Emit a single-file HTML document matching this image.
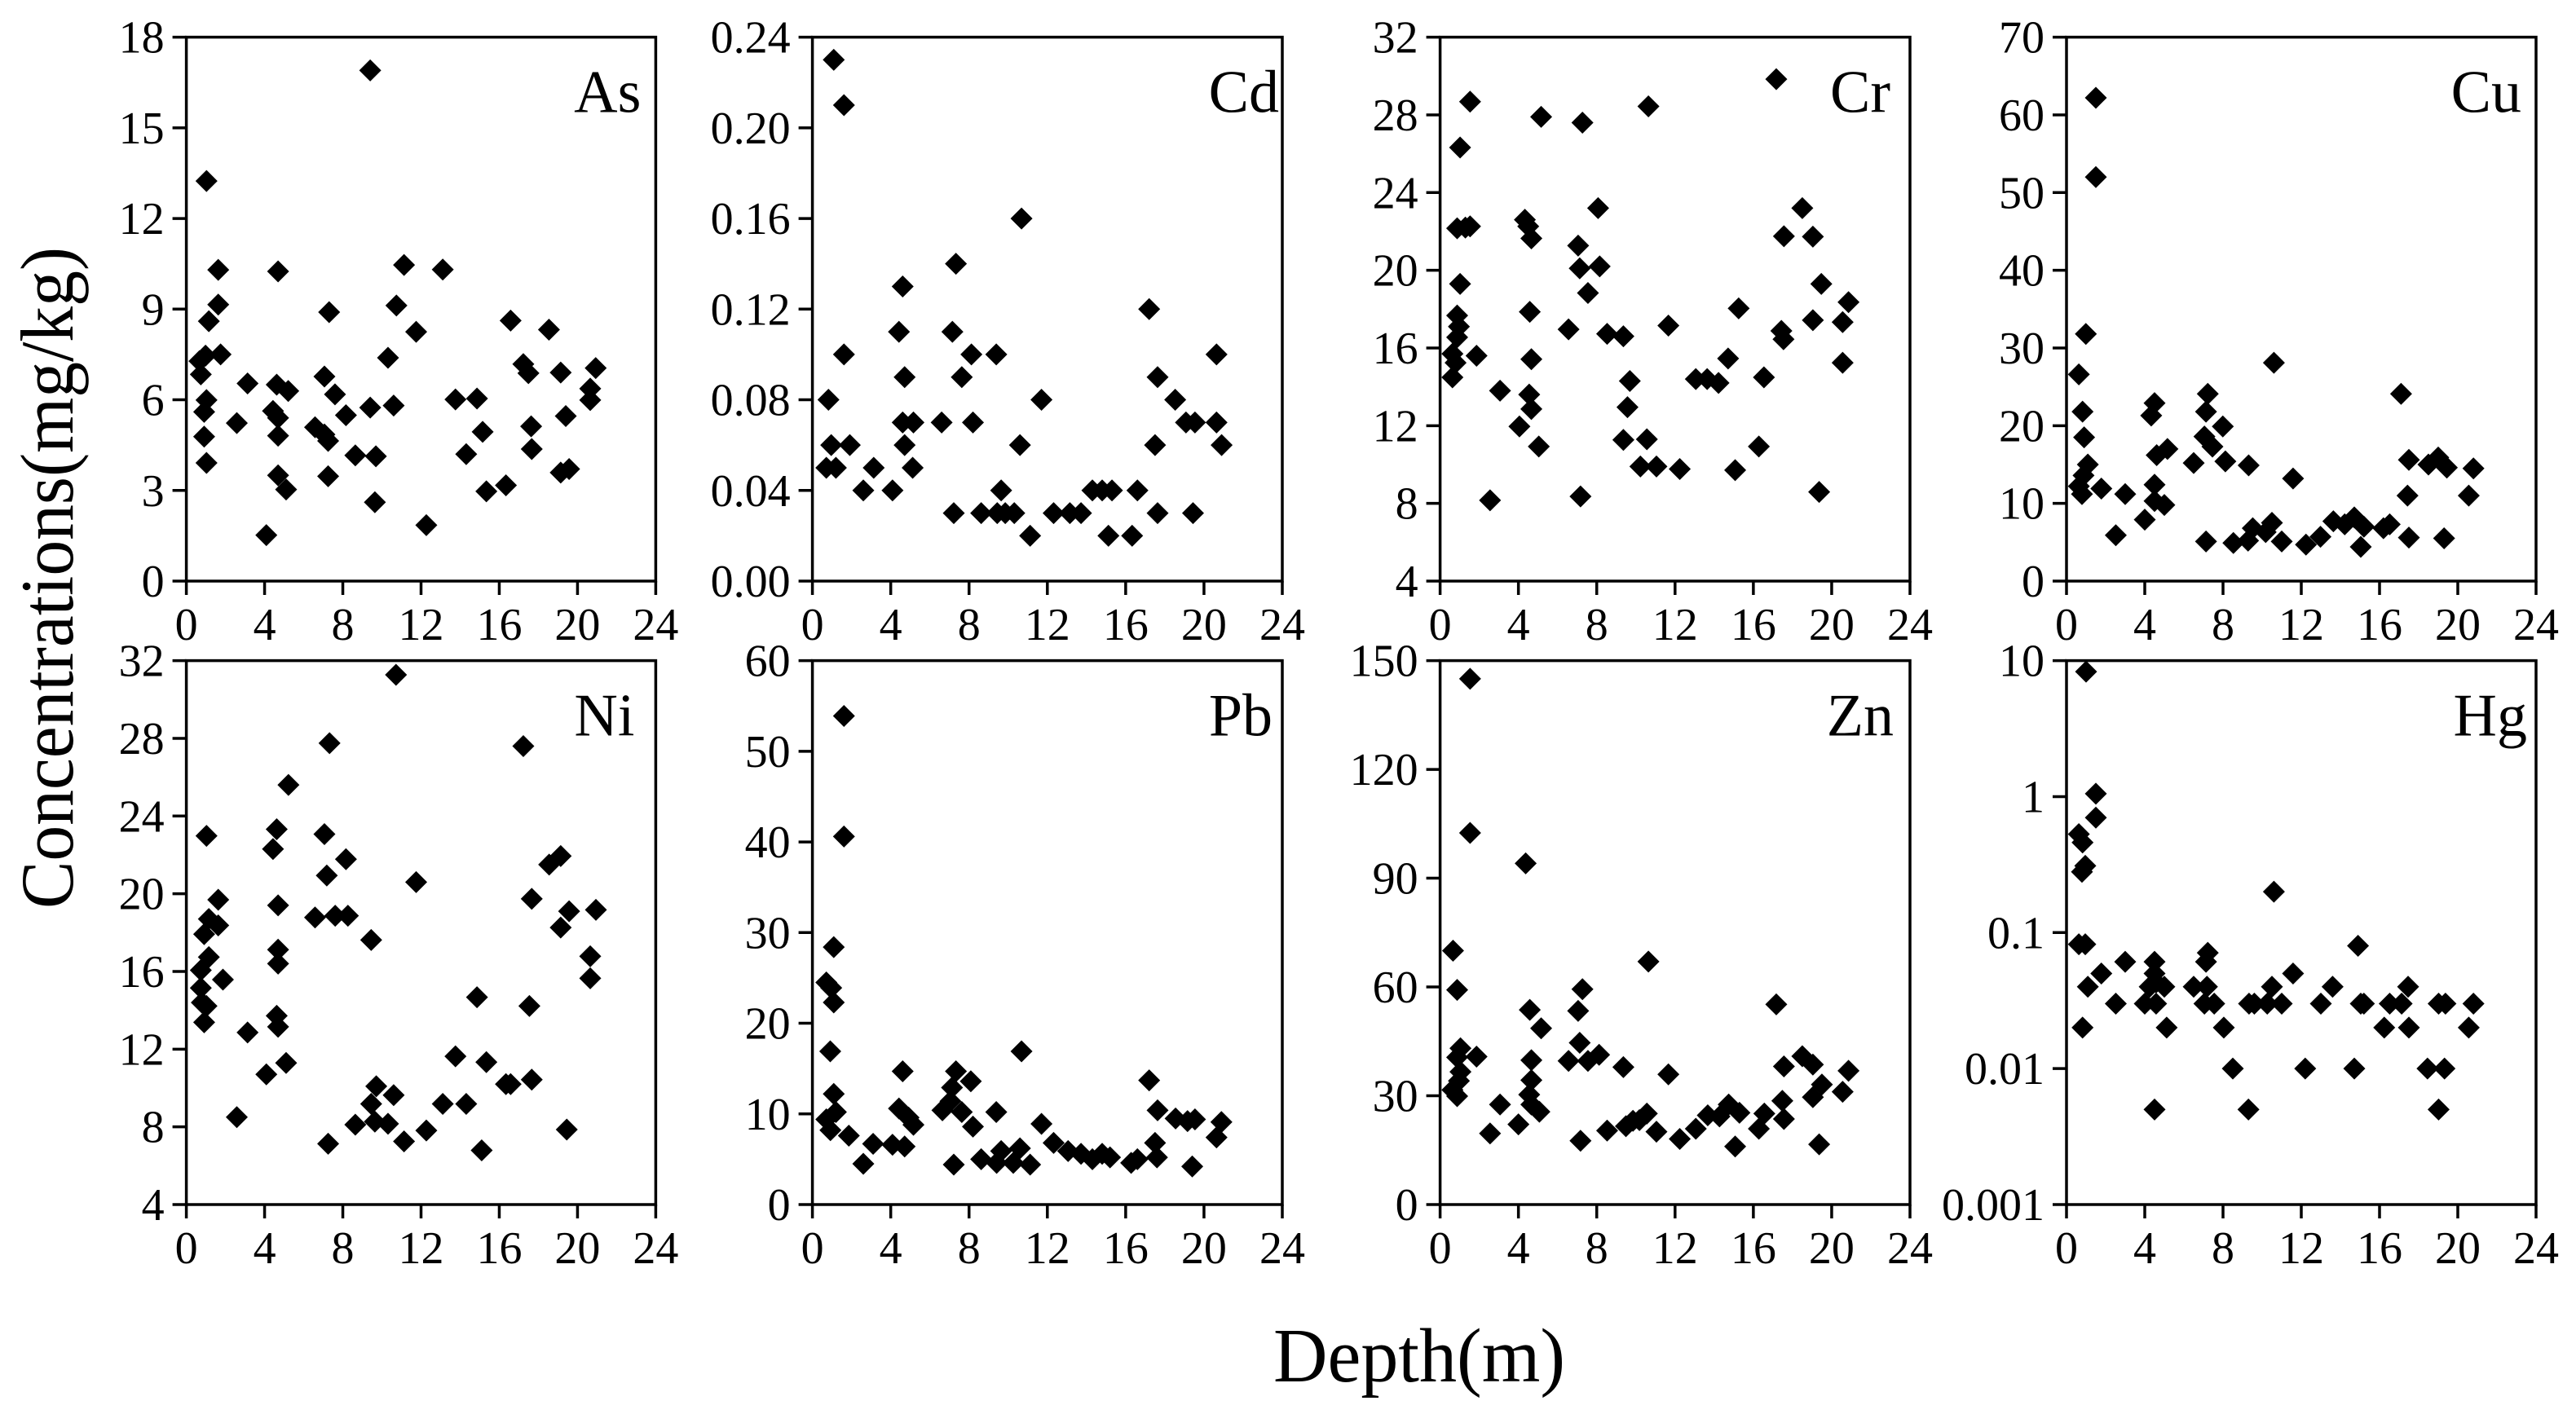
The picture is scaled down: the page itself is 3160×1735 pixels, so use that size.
<!DOCTYPE html>
<html><head><meta charset="utf-8"><style>
html,body{margin:0;padding:0;background:#fff}
svg{display:block}
text{font-family:"Liberation Serif",serif;fill:#000}
</style></head><body>
<svg id="chart" xmlns="http://www.w3.org/2000/svg" width="3160" height="1735" viewBox="0 0 3160 1735" font-family="'Liberation Serif', serif">
<rect width="3160" height="1735" fill="#fff"/>
<text transform="translate(89,709) rotate(-90)" text-anchor="middle" font-size="92" textLength="812" lengthAdjust="spacingAndGlyphs">Concentrations(mg/kg)</text>
<text x="1741" y="1695" text-anchor="middle" font-size="94" textLength="358" lengthAdjust="spacingAndGlyphs">Depth(m)</text>
<g id="panels"></g>
</svg>
<script>
const xTicks = [0,4,8,12,16,20,24];
const asX=[1.03,9.4,1.63,4.69,1.63,1.15,1.75,0.67,0.98,0.74,1.03,0.91,0.91,1.03,2.58,3.13,4.09,4.43,4.69,4.62,5.21,4.69,4.69,5.1,6.58,7.06,7.06,7.25,7.3,7.25,7.6,8.16,8.64,9.4,9.69,9.64,10.31,10.6,10.74,11.13,11.75,12.27,13.11,13.76,14.31,14.86,15.15,15.34,16.34,16.58,17.23,17.49,17.63,17.66,18.54,19.14,19.4,19.14,19.57,20.65,20.65,20.93];
const asY=[13.24,16.9,10.3,10.25,9.15,8.6,7.5,7.28,7.46,6.84,5.99,5.6,4.78,3.91,5.23,6.54,1.52,5.63,5.4,6.5,6.29,4.81,3.5,3.03,5.09,6.77,4.85,4.64,8.9,3.47,6.18,5.49,4.16,5.74,4.13,2.61,7.39,5.81,9.12,10.46,8.25,1.85,10.31,6.01,4.2,6.04,4.94,2.97,3.17,8.62,7.18,6.88,5.12,4.37,8.32,6.9,5.46,3.59,3.71,6.37,5.99,7.05];
const cdX=[1.09,1.61,10.68,7.33,4.61,17.2,4.42,7.15,1.61,8.12,9.39,20.64,4.71,7.63,17.63,0.82,11.7,18.53,4.61,5.16,6.6,8.2,19.08,19.54,20.64,0.96,1.91,4.71,10.6,17.5,20.9,0.71,1.2,3.13,5.12,2.6,4.09,9.64,14.3,14.8,15.3,16.6,7.22,8.62,9.44,9.85,10.31,12.32,13.15,13.72,17.63,19.44,11.12,15.12,16.33];
const cdY=[0.23,0.21,0.16,0.14,0.13,0.12,0.11,0.11,0.1,0.1,0.1,0.1,0.09,0.09,0.09,0.08,0.08,0.08,0.07,0.07,0.07,0.07,0.07,0.07,0.07,0.06,0.06,0.06,0.06,0.06,0.06,0.05,0.05,0.05,0.05,0.04,0.04,0.04,0.04,0.04,0.04,0.04,0.03,0.03,0.03,0.03,0.03,0.03,0.03,0.03,0.03,0.03,0.02,0.02,0.02];
const crX=[1.53,1.02,5.16,7.27,10.64,17.17,8.07,18.5,0.87,1.29,1.53,4.33,4.5,4.66,17.56,19.04,7.05,7.13,8.15,1.02,19.47,7.55,20.86,4.58,15.25,0.87,0.96,0.87,6.56,8.53,9.36,11.66,17.43,17.54,19.04,20.56,0.63,0.79,1.86,4.66,14.71,20.56,0.63,9.69,13.06,13.64,14.22,16.54,3.06,4.55,4.66,9.57,4.05,5.04,9.36,10.56,10.23,11.05,12.24,15.07,16.28,2.55,7.17,19.36];
const crY=[28.68,26.32,27.9,27.6,28.44,29.84,23.2,23.2,22.16,22.2,22.26,22.6,22.26,21.64,21.75,21.73,21.27,20.1,20.2,19.3,19.3,18.83,18.36,17.86,18.04,17.67,17.1,16.55,16.96,16.73,16.6,17.15,16.88,16.45,17.43,17.33,15.7,15.24,15.6,15.42,15.46,15.24,14.49,14.3,14.4,14.4,14.2,14.49,13.8,13.6,12.86,12.95,11.96,10.93,11.27,11.3,9.9,9.9,9.77,9.71,10.93,8.16,8.36,8.59];
const cuX=[1.5,1.5,0.99,0.63,10.6,0.82,4.5,7.22,17.1,4.33,7.13,7.99,0.9,7.05,7.46,5.16,4.61,1.09,6.5,8.12,9.31,17.5,18.5,19.0,19.44,20.8,0.87,0.63,0.79,1.78,3.0,4.5,4.5,5.0,11.58,17.43,20.56,4.0,2.52,7.13,8.53,9.28,9.52,10.18,10.5,11.0,12.24,12.98,13.64,14.22,14.71,15.2,15.04,16.2,16.52,17.5,19.3];
const cuY=[62.2,52.0,31.8,26.6,28.1,21.8,22.9,24.1,24.1,21.3,21.8,19.9,18.5,18.6,17.3,17.0,16.2,15.0,15.2,15.4,14.9,15.6,15.0,15.9,14.6,14.5,13.6,12.2,11.2,11.9,11.2,12.4,10.3,9.8,13.2,11.0,11.0,7.9,5.9,5.1,4.9,5.2,6.8,6.3,7.5,5.1,4.7,5.7,7.7,7.3,8.2,7.0,4.4,6.8,7.3,5.6,5.5];
const niX=[10.72,7.32,17.23,5.22,1.03,4.62,4.43,7.06,8.16,7.18,11.75,18.55,19.14,1.63,4.69,17.66,20.94,19.57,1.15,1.63,0.91,6.58,7.61,8.26,9.45,19.14,4.69,4.69,1.15,20.65,0.74,1.87,20.65,0.74,0.79,1.03,0.91,4.62,4.69,14.86,17.54,3.13,4.09,5.1,13.76,15.34,16.34,16.58,17.66,9.71,10.6,9.45,9.64,10.31,13.11,14.31,2.58,8.64,12.27,11.13,7.25,15.1,19.45];
const niY=[31.27,27.75,27.6,25.6,22.98,23.32,22.3,23.07,21.78,20.94,20.6,21.5,21.94,19.69,19.4,19.74,19.17,19.1,18.7,18.37,17.92,18.78,18.87,18.87,17.62,18.26,17.12,16.4,16.74,16.78,16.06,15.58,15.65,15.15,14.4,14.22,13.38,13.72,13.15,14.67,14.22,12.86,10.7,11.29,11.63,11.33,10.2,10.2,10.43,10.09,9.63,9.18,8.27,8.16,9.18,9.18,8.5,8.11,7.81,7.25,7.13,6.79,7.86];
const pbX=[1.61,1.61,1.09,0.71,0.96,1.09,0.91,10.68,4.61,7.33,17.2,8.09,1.09,7.13,1.2,0.71,0.92,1.86,4.42,4.91,5.16,6.64,7.05,7.63,8.2,9.39,11.7,17.63,18.55,19.16,19.54,20.89,20.64,3.1,4.09,4.71,2.6,7.22,8.62,9.41,9.64,10.6,10.26,11.12,12.32,13.06,13.72,14.3,14.8,15.2,16.28,16.6,17.5,17.6,19.4];
const pbY=[53.9,40.6,28.4,24.5,23.9,22.3,16.9,16.9,14.7,14.7,13.7,13.6,12.2,12.9,10.2,9.4,8.2,7.6,10.6,9.6,8.8,10.4,11.4,10.2,8.6,10.2,8.9,10.4,9.5,9.2,9.4,9.1,7.4,6.7,6.6,6.4,4.5,4.4,5.0,4.6,5.9,6.2,4.6,4.4,6.8,5.9,5.6,5.0,5.6,5.2,4.6,5.0,6.8,5.2,4.2];
const znX=[1.53,1.53,4.37,0.66,10.64,0.87,7.27,17.17,4.58,7.05,5.16,7.13,1.04,1.86,0.87,4.66,6.56,7.55,8.12,9.36,11.66,17.56,18.5,19.04,20.86,1.04,0.96,4.66,0.63,0.87,4.55,4.66,19.5,20.56,19.04,17.48,3.06,5.07,4.0,2.55,7.17,8.53,9.49,9.85,10.56,10.18,11.05,12.24,13.06,13.67,14.27,14.74,15.29,15.07,16.28,16.56,17.56,19.36];
const znY=[145,102.5,94.1,70.0,67.0,59.2,59.4,55.2,53.7,53.4,48.6,44.6,43.1,40.8,40.6,39.8,39.6,39.6,41.3,37.9,35.9,38.1,40.9,38.6,36.9,36.6,34.1,34.3,31.6,29.9,30.3,27.6,33.1,31.1,29.6,28.6,27.6,25.6,22.1,19.6,17.6,20.4,21.6,23.1,25.1,23.3,20.1,18.1,20.9,24.6,24.3,27.6,25.3,16.0,20.9,25.1,23.6,16.6];
const hgX=[1.0,1.5,1.5,0.63,0.82,0.96,0.79,10.6,0.63,0.96,14.9,7.22,7.13,3.0,4.5,1.78,11.58,4.5,4.58,1.09,4.25,5.0,6.5,7.18,10.5,13.6,17.46,2.52,4.0,4.58,7.05,7.55,9.33,9.6,10.26,11.0,13.0,15.04,15.2,16.52,17.13,19.02,19.37,20.8,0.82,5.12,8.04,16.24,17.5,20.56,8.5,12.2,14.71,18.45,19.32,4.5,9.3,19.02];
const hgY=[8.3,1.05,0.7,0.53,0.46,0.31,0.28,0.2,0.082,0.082,0.08,0.071,0.061,0.061,0.061,0.05,0.05,0.05,0.043,0.04,0.04,0.04,0.04,0.04,0.04,0.04,0.04,0.03,0.03,0.03,0.03,0.03,0.03,0.03,0.03,0.03,0.03,0.03,0.03,0.03,0.03,0.03,0.03,0.03,0.02,0.02,0.02,0.02,0.02,0.02,0.01,0.01,0.01,0.01,0.01,0.005,0.005,0.005];
const asTicks=[0,3,6,9,12,15,18];
const cdTicks=[0,0.04,0.08,0.12,0.16,0.20,0.24];
const crTicks=[4,8,12,16,20,24,28,32];
const cuTicks=[0,10,20,30,40,50,60,70];
const niTicks=[4,8,12,16,20,24,28,32];
const pbTicks=[0,10,20,30,40,50,60];
const znTicks=[0,30,60,90,120,150];
const hgTicks=[0.001,0.01,0.1,1,10];
const cdLabels=["0.00","0.04","0.08","0.12","0.16","0.20","0.24"];
const hgLabels=["0.001","0.01","0.1","1","10"];

const NS="http://www.w3.org/2000/svg";
const root=document.getElementById('panels');
function mk(tag,attrs,parent){const e=document.createElementNS(NS,tag);for(const k in attrs)e.setAttribute(k,attrs[k]);parent.appendChild(e);return e;}
const panels=[
 {name:'As',x0:228.6,x1:804.4,y0:45.6,y1:713,xs:asX,ys:asY,ticks:asTicks,labels:null,log:false,lo:18},
 {name:'Cd',x0:996.6,x1:1573,y0:45.6,y1:713,xs:cdX,ys:cdY,ticks:cdTicks,labels:cdLabels,log:false,lo:4},
 {name:'Cr',x0:1766.6,x1:2343,y0:45.6,y1:713,xs:crX,ys:crY,ticks:crTicks,labels:null,log:false,lo:24},
 {name:'Cu',x0:2535,x1:3111,y0:45.6,y1:713,xs:cuX,ys:cuY,ticks:cuTicks,labels:null,log:false,lo:18},
 {name:'Ni',x0:228.6,x1:804.4,y0:810.6,y1:1478,xs:niX,ys:niY,ticks:niTicks,labels:null,log:false,lo:26},
 {name:'Pb',x0:996.6,x1:1573,y0:810.6,y1:1478,xs:pbX,ys:pbY,ticks:pbTicks,labels:null,log:false,lo:12},
 {name:'Zn',x0:1766.6,x1:2343,y0:810.6,y1:1478,xs:znX,ys:znY,ticks:znTicks,labels:null,log:false,lo:20},
 {name:'Hg',x0:2535,x1:3111,y0:810.6,y1:1478,xs:hgX,ys:hgY,ticks:hgTicks,labels:hgLabels,log:true,lo:11}
];
panels.forEach(p=>{
 const g=mk('g',{},root);
 
 
 const xmin=xTicks[0],xmax=xTicks[xTicks.length-1];
 const ymin=p.ticks[0],ymax=p.ticks[p.ticks.length-1];
 const sx=v=>p.x0+(v-xmin)/(xmax-xmin)*(p.x1-p.x0);
 const sy=p.log?(v=>p.y1-(Math.log10(v)-Math.log10(ymin))/(Math.log10(ymax)-Math.log10(ymin))*(p.y1-p.y0))
               :(v=>p.y1-(v-ymin)/(ymax-ymin)*(p.y1-p.y0));
 const fr=mk('rect',{x:p.x0,y:p.y0,width:p.x1-p.x0,height:p.y1-p.y0,fill:'none',stroke:'#000','stroke-width':3.5},g);
 
 
 xTicks.forEach(t=>{
  const x=sx(t);
  const l=mk('line',{x1:x,y1:p.y1,x2:x,y2:p.y1+17,stroke:'#000','stroke-width':3.5},g);
  
  
  const tx=mk('text',{x:x,y:p.y1+72,'text-anchor':'middle','font-size':56},g);
  
  
  tx.textContent=String(t);
 });
 p.ticks.forEach((t,i)=>{
  const y=sy(t);
  const l=mk('line',{x1:p.x0-17,y1:y,x2:p.x0,y2:y,stroke:'#000','stroke-width':3.5},g);
  
  
  const tx=mk('text',{x:p.x0-27,y:y+19,'text-anchor':'end','font-size':56},g);
  
  
  tx.textContent=p.labels?p.labels[i]:String(t);
 });
 const r=13.5;
 p.xs.forEach((xv,i)=>{
  const cx=sx(xv),cy=sy(p.ys[i]);
  const d=mk('polygon',{points:`${cx},${cy-r} ${cx+r},${cy} ${cx},${cy+r} ${cx-r},${cy}`,fill:'#000'},g);
  
  
 });
 const lab=mk('text',{x:p.x1-p.lo,y:p.y0+92,'text-anchor':'end','font-size':74},g);
 
 
 lab.textContent=p.name;
});
</script>
</body></html>
